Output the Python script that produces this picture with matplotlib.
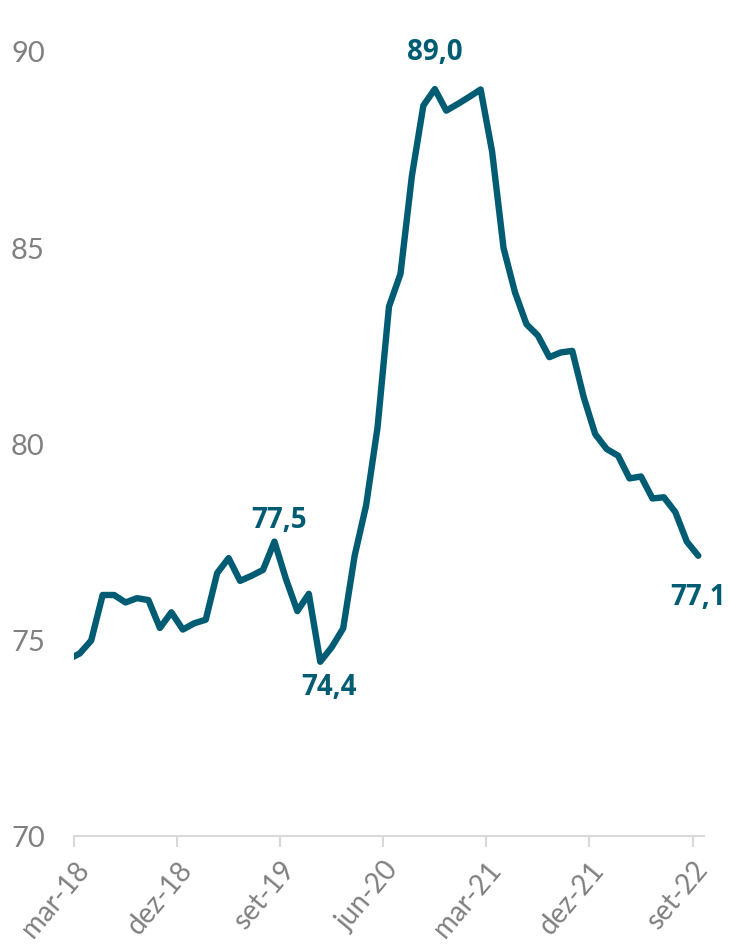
import matplotlib
matplotlib.use("Agg")
import matplotlib.pyplot as plt
import matplotlib.transforms as mtransforms
import numpy as np

# Monthly series, fev-18 .. set-22 (the fev-18 point is clipped by the axis start at mar-18)
months = ["fev-18", "mar-18", "abr-18", "mai-18", "jun-18", "jul-18", "ago-18", "set-18", "out-18",
          "nov-18", "dez-18", "jan-19", "fev-19", "mar-19", "abr-19", "mai-19", "jun-19", "jul-19",
          "ago-19", "set-19", "out-19", "nov-19", "dez-19", "jan-20", "fev-20", "mar-20", "abr-20",
          "mai-20", "jun-20", "jul-20", "ago-20", "set-20", "out-20", "nov-20", "dez-20", "jan-21",
          "fev-21", "mar-21", "abr-21", "mai-21", "jun-21", "jul-21", "ago-21", "set-21", "out-21",
          "nov-21", "dez-21", "jan-22", "fev-22", "mar-22", "abr-22", "mai-22", "jun-22", "jul-22",
          "ago-22", "set-22"]
values = [74.50, 74.65, 74.98, 76.14, 76.14, 75.95, 76.06, 76.01, 75.30, 75.70, 75.26,
          75.42, 75.51, 76.70, 77.08, 76.50, 76.63, 76.78, 77.50, 76.55, 75.73, 76.17,
          74.44, 74.81, 75.29, 77.14, 78.42, 80.41, 83.49, 84.32, 86.82, 88.61, 89.03,
          88.48, 88.65, 88.83, 89.02, 87.44, 84.98, 83.85, 83.04, 82.75, 82.20, 82.32,
          82.36, 81.18, 80.24, 79.86, 79.69, 79.11, 79.16, 78.60, 78.63, 78.25, 77.50, 77.14]
tick_labels = ["mar-18", "dez-18", "set-19", "jun-20", "mar-21", "dez-21", "set-22"]
y_ticks = [70, 75, 80, 85, 90]

# labelled points: (month, text, offset in points)
labels = [("ago-19", "77,5", (3, 16)),
          ("dez-19", "74,4", (6, -18)),
          ("out-20", "89,0", (0, 27)),
          ("set-22", "77,1", (0, -29))]

LINE = "#005C73"
GREY = "#808080"
AXC = "#D9D9D9"
FONT = ["Lato", "DejaVu Sans"]
BOLDFONT = ["Open Sans", "DejaVu Sans"]

plt.rcParams["font.family"] = FONT

fig = plt.figure(figsize=(7.3, 9.45), dpi=100)
ax = fig.add_axes([74 / 730, 1 - 837 / 945, (704 - 74) / 730, (837 - 52) / 945])

# month index relative to mar-18; points sit mid-month
idx = np.arange(len(values)) - 1
x = idx + 0.5
ax.plot(x, values, color=LINE, lw=4.6, solid_capstyle="round", solid_joinstyle="round",
        clip_on=True)

ax.set_xlim(0, 55)
ax.set_ylim(70, 90)

tick_pos = [months.index(t) - 1 for t in tick_labels]
ax.set_xticks(tick_pos)
ax.set_xticklabels([])
offset = mtransforms.ScaledTranslation(10 / 100, -28 / 100, fig.dpi_scale_trans)
trans = ax.get_xaxis_transform() + offset
for p, t in zip(tick_pos, tick_labels):
    ax.text(p, 0, t, transform=trans, rotation=50, rotation_mode="anchor",
            ha="right", va="center", fontsize=20, color=GREY, clip_on=False)

ax.set_yticks(y_ticks)
ax.set_yticklabels([str(v) for v in y_ticks], fontsize=21, color=GREY)

for s in ["top", "right", "left"]:
    ax.spines[s].set_visible(False)
ax.spines["bottom"].set_color(AXC)
ax.spines["bottom"].set_linewidth(1.5)
ax.tick_params(axis="x", length=8, width=1.5, color=AXC, pad=6)
ax.tick_params(axis="y", length=0, pad=21)

for m, txt, off in labels:
    i = months.index(m)
    ax.annotate(txt, (x[i], values[i]), xytext=off, textcoords="offset points",
                ha="center", va="center", fontsize=20, fontweight="bold", color=LINE,
                family=BOLDFONT, annotation_clip=False)

fig.savefig("out.png", dpi=100, facecolor="white")
